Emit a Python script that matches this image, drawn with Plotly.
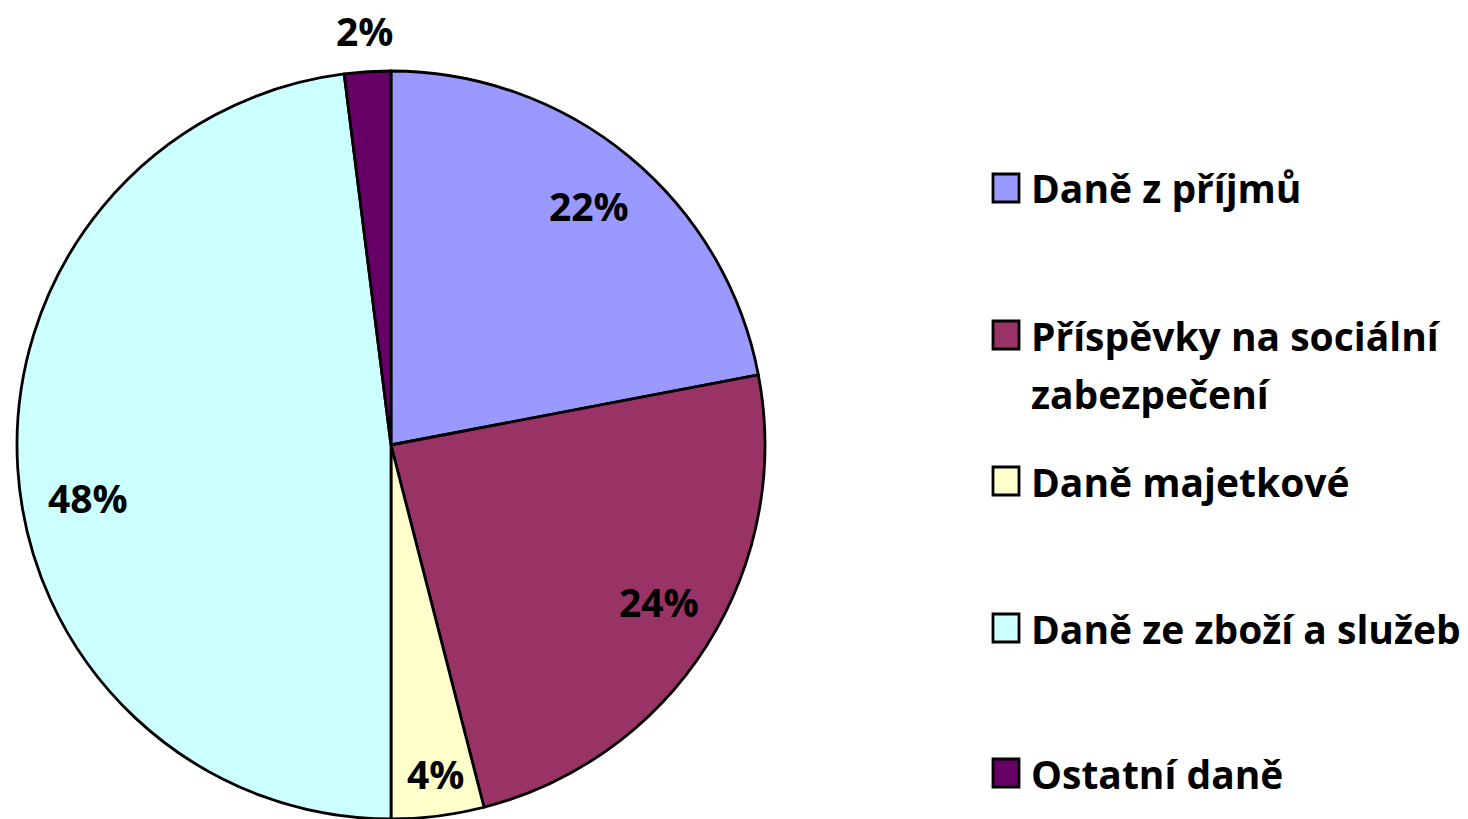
import numpy as np
import plotly.graph_objects as go

# Struktura daňových příjmů (podíl v %)
categories = [
    "Daně z příjmů",
    "Příspěvky na sociální<br>zabezpečení",
    "Daně majetkové",
    "Daně ze zboží a služeb",
    "Ostatní daně",
]
shares = [22, 24, 4, 48, 2]
colors = ["#9999FF", "#993366", "#FFFFCC", "#CCFFFF", "#660066"]

W, H = 1468, 819
FONT = "Open Sans"
FONT_SIZE = 39

# Geometrie koláče (v pixelech)
cx, cy, R = 391, 445, 374

# Poloha popisků: podíl poloměru a drobný posun (px) pro každý výsek
label_radius = [0.83, 0.83, 0.885, 0.82, 1.11]
label_nudge = [(0, 0), (6, -10), (3, 0), (3, 33), (0, 0)]

fig = go.Figure()
fig.add_trace(go.Pie(
    labels=[c.replace("<br>", " ") for c in categories],
    values=shares,
    sort=False,
    direction="clockwise",
    rotation=0,
    marker=dict(colors=colors, line=dict(color="#000000", width=2.8)),
    textinfo="none",
    domain=dict(x=[(cx - R) / W, (cx + R) / W], y=[0, 2 * R / H]),
    showlegend=False,
    hoverinfo="label+percent",
))

annotations = []
shapes = []

# Procentní popisky výseků ve středu úhlu každého výseku
vals = np.array(shares, dtype=float)
cum = np.cumsum(vals) - vals / 2
mid_angle = np.deg2rad(cum / vals.sum() * 360.0)
for v, a, rf, (nx, ny) in zip(shares, mid_angle, label_radius, label_nudge):
    px = cx + np.sin(a) * R * rf + nx
    py = cy - np.cos(a) * R * rf + ny
    annotations.append(dict(
        text=f"{v}%", xref="paper", yref="paper",
        x=px / W, y=1 - py / H, xanchor="center", yanchor="middle",
        showarrow=False,
        font=dict(family=FONT, size=FONT_SIZE, color="#000000", weight="bold"),
    ))

# Legenda: čtverec a popisek pro každou kategorii
legend_y = [188, 335, 481, 628, 773]
line_gap = 58
for cat, col, y in zip(categories, colors, legend_y):
    shapes.append(dict(
        type="rect", xref="paper", yref="paper",
        x0=993 / W, x1=1019 / W, y0=1 - (y + 14) / H, y1=1 - (y - 14) / H,
        fillcolor=col, line=dict(color="#000000", width=2.8),
    ))
    for i, part in enumerate(cat.split("<br>")):
        annotations.append(dict(
            text=part, xref="paper", yref="paper",
            x=1029 / W, y=1 - (y + i * line_gap) / H,
            xanchor="left", yanchor="middle", showarrow=False,
            font=dict(family=FONT, size=FONT_SIZE, color="#000000", weight="bold"),
        ))

fig.update_layout(
    width=W, height=H,
    margin=dict(l=0, r=0, t=0, b=0),
    paper_bgcolor="#FFFFFF",
    plot_bgcolor="#FFFFFF",
    shapes=shapes,
    annotations=annotations,
)

fig.write_html("out.html")
